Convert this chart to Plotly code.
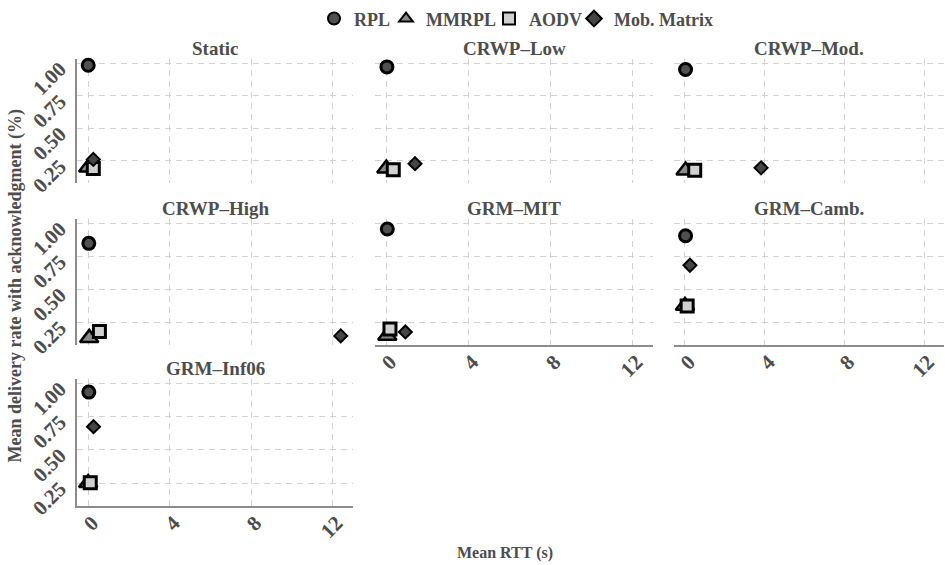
import plotly.graph_objects as go

# Facet panels (mobility scenarios), in reading order
panels = ["Static", "CRWP–Low", "CRWP–Mod.", "CRWP–High", "GRM–MIT", "GRM–Camb.", "GRM–Inf06"]

# Mean RTT (s) per panel for each protocol
rpl_rtt = [0.0, 0.03, 0.03, 0.03, 0.05, 0.03, 0.03]
mmrpl_rtt = [0.0, 0.0, 0.03, 0.05, 0.05, 0.0, 0.0]
aodv_rtt = [0.25, 0.34, 0.49, 0.55, 0.18, 0.11, 0.1]
mob_rtt = [0.25, 1.4, 3.82, 12.4, 0.93, 0.25, 0.26]

# Mean delivery rate with acknowledgment per panel for each protocol
rpl_rate = [0.985, 0.972, 0.952, 0.848, 0.957, 0.906, 0.934]
mmrpl_rate = [0.197, 0.19, 0.174, 0.132, 0.149, 0.375, 0.25]
aodv_rate = [0.19, 0.18, 0.177, 0.18, 0.20, 0.373, 0.252]
mob_rate = [0.26, 0.227, 0.195, 0.147, 0.177, 0.682, 0.674]

x_ticks = [0, 4, 8, 12]
y_ticks = [0.25, 0.50, 0.75, 1.00]

protocols = [
    ("RPL", rpl_rtt, rpl_rate, "circle", 12, "#505050", 3),
    ("MMRPL", mmrpl_rtt, mmrpl_rate, "triangle-up", 16, "#8a8a8a", 2.5),
    ("AODV", aodv_rtt, aodv_rate, "square", 12, "#d0d0d0", 3),
    ("Mob. Matrix", mob_rtt, mob_rate, "diamond", 10, "#454545", 2),
]

W, H = 945, 565
col_px = [(77, 353), (375, 653), (674, 944)]
row_px = [(53, 178), (215, 342), (377, 505)]
TXT = "#4d4d4d"
FONT = "Liberation Serif"
GRID = dict(showgrid=True, gridcolor="#d2d2d2", griddash="6px,5px", gridwidth=1.2)
TICKFONT = dict(family=FONT, size=21, color=TXT, weight="bold")

fig = go.Figure()
layout = {}
annotations = []

n_cols = 3
for i, name in enumerate(panels):
    r, c = divmod(i, n_cols)
    ax = "" if i == 0 else str(i + 1)
    # a panel shows x labels when nothing sits below it in its column
    bottom = (i + n_cols) >= len(panels)
    left = c == 0
    x0, x1 = col_px[c]
    y0, y1 = row_px[r]
    layout["xaxis" + ax] = dict(
        domain=[x0 / W, x1 / W], anchor="y" + ax, range=[-0.55, 13.0],
        tickvals=x_ticks, showticklabels=bottom, tickangle=-45,
        tickfont=TICKFONT, **GRID,
        zeroline=False, showline=bottom, linecolor="#8c8c8c", linewidth=1.6,
        ticks="", ticklabelstandoff=-5, ticklabelshift=4, automargin=False,
    )
    layout["yaxis" + ax] = dict(
        domain=[1 - y1 / H, 1 - y0 / H], anchor="x" + ax, range=[0.08, 1.03],
        tickvals=y_ticks, tickformat=".2f", showticklabels=left, tickangle=-45,
        tickfont=TICKFONT, **GRID,
        zeroline=False, showline=left, linecolor="#8c8c8c", linewidth=1.6,
        ticks="", ticklabelstandoff=11, ticklabelshift=3, automargin=False,
    )
    annotations.append(dict(
        text=name, x=(x0 + x1) / 2 / W, y=1 - y0 / H, xref="paper", yref="paper",
        xanchor="center", yanchor="bottom", showarrow=False, yshift=-2,
        font=dict(family=FONT, size=19, color=TXT, weight="bold"),
    ))
    for k, (pname, xs, ys, sym, size, fill, lw) in enumerate(protocols):
        fig.add_trace(go.Scatter(
            x=[xs[i]], y=[ys[i]], mode="markers", name=pname,
            legendgroup=pname, showlegend=(i == 0),
            legend="legend" if k == 0 else "legend%d" % (k + 1),
            xaxis="x" + ax, yaxis="y" + ax,
            marker=dict(symbol=sym, size=size, color=fill,
                        line=dict(color="black", width=lw)),
            cliponaxis=False,
        ))

annotations.append(dict(
    text="Mean RTT (s)", x=505 / W, y=1 - 553 / H, xref="paper", yref="paper",
    xanchor="center", yanchor="middle", showarrow=False,
    font=dict(family=FONT, size=16, color=TXT, weight="bold"),
))
annotations.append(dict(
    text="Mean delivery rate with acknowledgment (%)", x=15 / W, y=1 - 283 / H,
    xref="paper", yref="paper", xanchor="center", yanchor="middle",
    showarrow=False, textangle=-90,
    font=dict(family=FONT, size=18, color=TXT, weight="bold"),
))

# one legend box per protocol so the entries sit tightly side by side
legend_left_px = [314, 386, 489, 574]
for k, lx in enumerate(legend_left_px):
    key = "legend" if k == 0 else "legend%d" % (k + 1)
    layout[key] = dict(
        orientation="h", x=lx / W, y=1 - 12 / H, xanchor="left", yanchor="middle",
        font=dict(family=FONT, size=18, color=TXT, weight="bold"),
        itemsizing="constant", bgcolor="rgba(0,0,0,0)", itemwidth=30,
    )

fig.update_layout(
    **layout,
    annotations=annotations,
    width=W, height=H,
    margin=dict(l=0, r=0, t=0, b=0),
    paper_bgcolor="white", plot_bgcolor="white",
    showlegend=True,
)

fig.write_html("out.html")
